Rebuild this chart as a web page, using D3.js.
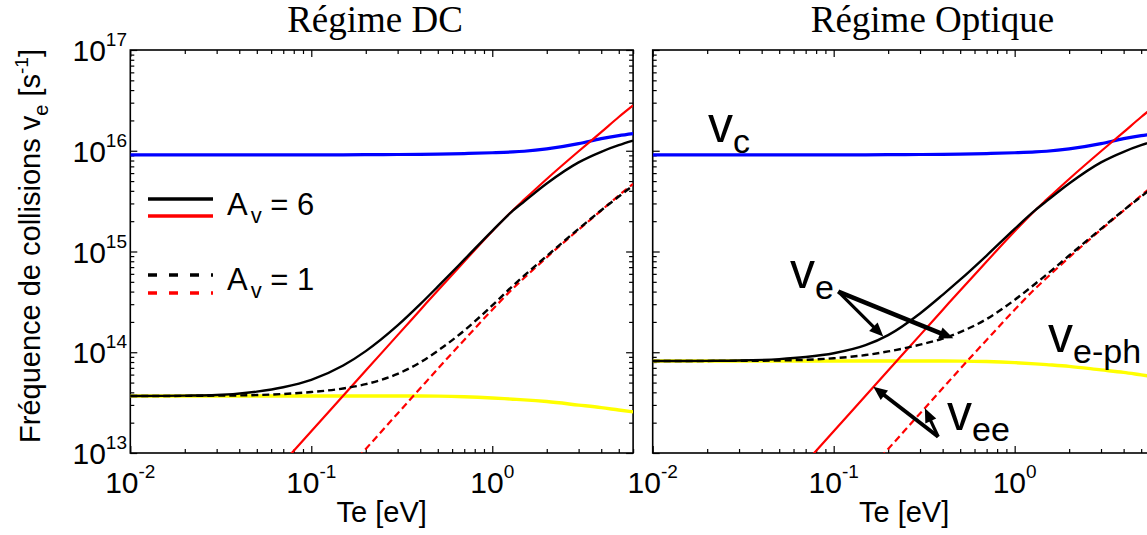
<!DOCTYPE html>
<html><head><meta charset="utf-8">
<script src="https://cdn.jsdelivr.net/npm/d3@7"></script>
<style>body{margin:0;background:#fff;overflow:hidden} svg{display:block}</style>
</head><body><svg id="c" width="1147" height="535"></svg>
<script>
// ---- data ----
const temperatures = [0.01,0.015,0.02,0.03,0.05,0.07,0.1,0.15,0.2,0.3,0.4,0.5,0.7,1,1.3,1.5,2,3,4,5,6];
const vcValues = [9.08e15,9.08e15,9.08e15,9.08e15,9.08e15,9.08e15,9.10e15,9.12e15,9.14e15,9.18e15,9.22e15,9.27e15,9.38e15,9.55e15,9.73e15,9.89e15,1.042e16,1.175e16,1.318e16,1.413e16,1.479e16];
const veeA6 = [null,null,null,null,null,8.05e12,1.644e13,3.70e13,6.58e13,1.479e14,2.63e14,4.11e14,7.94e14,1.585e15,2.57e15,3.27e15,5.25e15,9.89e15,1.531e16,2.163e16,2.818e16];
const veeA1 = [null,null,null,null,null,null,null,6.17e12,1.096e13,2.47e13,4.39e13,6.85e13,1.325e14,2.64e14,4.29e14,5.45e14,8.75e14,1.648e15,2.55e15,3.6e15,4.70e15];
const vephDC = [3.68e13,3.68e13,3.68e13,3.68e13,3.68e13,3.68e13,3.68e13,3.68e13,3.68e13,3.68e13,3.68e13,3.67e13,3.62e13,3.52e13,3.42e13,3.37e13,3.24e13,2.99e13,2.82e13,2.67e13,2.56e13];
const veDC_A6 = [3.68e13,3.69e13,3.71e13,3.76e13,4.07e13,4.49e13,5.32e13,7.38e13,1.026e14,1.845e14,3.0e14,4.48e14,8.30e14,1.603e15,2.54e15,3.13e15,4.73e15,7.67e15,9.77e15,1.135e16,1.259e16];
const veDC_A1 = [3.68e13,3.68e13,3.69e13,3.71e13,3.76e13,3.85e13,4.03e13,4.37e13,4.82e13,6.10e13,7.94e13,1.035e14,1.641e14,2.917e14,4.57e14,5.75e14,9.02e14,1.679e15,2.57e15,3.51e15,4.52e15];
const vephOpt = [8.18e13,8.18e13,8.18e13,8.18e13,8.18e13,8.18e13,8.18e13,8.18e13,8.18e13,8.18e13,8.18e13,8.17e13,8.09e13,7.89e13,7.67e13,7.53e13,7.24e13,6.68e13,6.31e13,5.96e13,5.69e13];
const veOpt_A6 = [8.18e13,8.20e13,8.22e13,8.28e13,8.55e13,8.97e13,9.77e13,1.175e14,1.479e14,2.427e14,3.715e14,5.25e14,9.12e14,1.679e15,2.57e15,3.16e15,4.73e15,7.67e15,9.77e15,1.135e16,1.259e16];
const veOpt_A1 = [8.18e13,8.18e13,8.20e13,8.22e13,8.28e13,8.41e13,8.71e13,9.38e13,1.019e14,1.189e14,1.365e14,1.585e14,2.138e14,3.31e14,4.79e14,5.89e14,9.12e14,1.679e15,2.57e15,3.51e15,4.52e15];

const xMajorTicks = [0.01, 0.1, 1];
const xTickExponents = ["-2", "-1", "0"];
const yMajorTicks = [1e13, 1e14, 1e15, 1e16, 1e17];
const yTickExponents = ["13", "14", "15", "16", "17"];
const panelTitles = ["Régime DC", "Régime Optique"];
const xDomain = [0.01, 6];
const yDomain = [1e13, 1e17];

// annotations in data coordinates (right panel)
const annotationLabels = [
  {main: "v", sub: "c", T: 0.0202, v: 1.23e16},
  {main: "v", sub: "e", T: 0.0574, v: 4.35e14},
  {main: "v", sub: "e-ph", T: 1.528, v: 1.01e14},
  {main: "v", sub: "ee", T: 0.4227, v: 1.69e13}
];
const annotationArrows = [
  {from: [0.106, 3.99e14], to: [0.188, 1.43e14], w: 3.2},
  {from: [0.106, 3.99e14], to: [0.458, 1.375e14], w: 4.6},
  {from: [0.378, 1.45e13], to: [0.1655, 4.55e13], w: 4.0},
  {from: [0.378, 1.45e13], to: [0.319, 2.78e13], w: 3.2}
];

// ---- layout ----
const svg = d3.select("#c");
const plotTop = 50, plotBottom = 453, plotW = 502.8;
const panels = [
  {left: 130.3, titleX: 375, veph: vephDC, a6: veDC_A6, a1: veDC_A1, yLabels: true, legend: true},
  {left: 652.7, titleX: 932.5, veph: vephOpt, a6: veOpt_A6, a1: veOpt_A1, yLabels: false, annot: true}
];
const sans = "Liberation Sans, Arial, sans-serif";

const defsEl = svg.append("defs");

panels.forEach((p, i) => {
  const x = d3.scaleLog().domain(xDomain).range([p.left, p.left + plotW]);
  const y = d3.scaleLog().domain(yDomain).range([plotBottom, plotTop]);
  const g = svg.append("g");

  defsEl.append("clipPath").attr("id", "clip" + i)
    .append("rect").attr("x", p.left).attr("y", plotTop)
    .attr("width", plotW).attr("height", plotBottom - plotTop);

  const xMinor = [];
  xMajorTicks.forEach(d => { for (let k = 2; k <= 9; k++) if (d * k <= xDomain[1]) xMinor.push(d * k); });
  const yMinor = [];
  yMajorTicks.slice(0, -1).forEach(d => { for (let k = 2; k <= 9; k++) yMinor.push(d * k); });

  const axes = [
    [() => d3.axisBottom(x), plotBottom, 0, "x"], [() => d3.axisTop(x), plotTop, 0, "x"],
    [() => d3.axisLeft(y), 0, p.left, "y"], [() => d3.axisRight(y), 0, p.left + plotW, "y"]
  ];
  axes.forEach(([mk, ty, tx, kind]) => {
    [[kind === "x" ? xMajorTicks : yMajorTicks, 7], [kind === "x" ? xMinor : yMinor, 4]].forEach(([vals, len]) => {
      const a = mk().tickValues(vals).tickSizeInner(-len).tickSizeOuter(0).tickFormat("");
      const ag = g.append("g").attr("transform", `translate(${tx},${ty})`).call(a);
      ag.select(".domain").remove();
      ag.selectAll("line").attr("stroke", "#000").attr("stroke-width", 1.2);
    });
  });

  g.append("rect").attr("x", p.left).attr("y", plotTop).attr("width", plotW).attr("height", plotBottom - plotTop)
    .attr("fill", "none").attr("stroke", "#000").attr("stroke-width", 1.6);

  xMajorTicks.forEach((d, k) => {
    const t = g.append("text").attr("x", x(d)).attr("y", 493).attr("text-anchor", "middle")
      .attr("font-family", sans).attr("font-size", 30).attr("fill", "#000");
    t.append("tspan").text("10");
    t.append("tspan").attr("font-size", 19).attr("dy", -15).text(xTickExponents[k]);
  });
  if (p.yLabels) {
    yMajorTicks.forEach((d, k) => {
      const t = g.append("text").attr("x", 127).attr("y", y(d) + 11).attr("text-anchor", "end")
        .attr("font-family", sans).attr("font-size", 30).attr("fill", "#000");
      t.append("tspan").text("10");
      t.append("tspan").attr("font-size", 19).attr("dy", -15).text(yTickExponents[k]);
    });
  }
  g.append("text").attr("x", p.left + plotW / 2).attr("y", 522).attr("text-anchor", "middle")
    .attr("font-family", sans).attr("font-size", 29).text("Te [eV]");
  g.append("text").attr("x", p.titleX).attr("y", 32).attr("text-anchor", "middle")
    .attr("font-family", "Liberation Serif, Times New Roman, serif").attr("font-size", 37).text(panelTitles[i]);

  const line = d3.line().defined(d => d[1] != null)
    .x(d => x(d[0])).y(d => y(d[1])).curve(d3.curveMonotoneX);
  const cg = g.append("g").attr("clip-path", `url(#clip${i})`);
  const series = [
    [vcValues, "#0000ff", 3.2, null],
    [p.veph, "#ffff00", 3.4, null],
    [veeA6, "#ff0000", 2.2, null],
    [veeA1, "#ff0000", 2.2, "7,4"],
    [p.a6, "#000000", 2.4, null],
    [p.a1, "#000000", 2.4, "7,4"]
  ];
  series.forEach(([vals, col, w, dash]) => {
    cg.append("path").datum(temperatures.map((t, k) => [t, vals[k]]))
      .attr("d", line).attr("fill", "none").attr("stroke", col).attr("stroke-width", w)
      .attr("stroke-dasharray", dash);
  });

  if (p.legend) {
    const lg = g.append("g");
    const items = [
      {ys: [199, 216], dash: null, label: "6", ty: 215},
      {ys: [275, 293], dash: "9,12", label: "1", ty: 290}
    ];
    items.forEach(it => {
      [["#000", it.ys[0]], ["#ff0000", it.ys[1]]].forEach(([c, yy]) => {
        lg.append("line").attr("x1", 148).attr("x2", 213).attr("y1", yy).attr("y2", yy)
          .attr("stroke", c).attr("stroke-width", 3.6).attr("stroke-dasharray", it.dash);
      });
      const t = lg.append("text").attr("x", 227).attr("y", it.ty)
        .attr("font-family", sans).attr("font-size", 31);
      t.append("tspan").text("A");
      t.append("tspan").attr("font-size", 22).attr("dy", 8).attr("dx", 3).text("v");
      t.append("tspan").attr("dy", -8).text(" = " + it.label);
    });
  }

  if (p.annot) {
    annotationLabels.forEach(a => {
      const t = g.append("text").attr("x", x(a.T)).attr("y", y(a.v))
        .attr("font-family", sans).attr("font-size", 50);
      t.append("tspan").text(a.main);
      t.append("tspan").attr("font-size", 34).attr("dy", 11).text(a.sub);
    });
    annotationArrows.forEach(a => {
      const x0 = x(a.from[0]), y0 = y(a.from[1]), x1 = x(a.to[0]), y1 = y(a.to[1]);
      const dx = x1 - x0, dy = y1 - y0, L = Math.hypot(dx, dy), ux = dx / L, uy = dy / L;
      const hl = 14, hw = 6;
      const bx = x1 - ux * hl, by = y1 - uy * hl;
      g.append("line").attr("x1", x0).attr("y1", y0).attr("x2", bx + ux * 2).attr("y2", by + uy * 2)
        .attr("stroke", "#000").attr("stroke-width", a.w);
      g.append("path").attr("d", `M${x1},${y1}L${bx - uy * hw},${by + ux * hw}L${bx + uy * hw},${by - ux * hw}Z`)
        .attr("fill", "#000");
    });
  }
});

const yt = svg.append("text").attr("transform", "translate(40,246) rotate(-90)")
  .attr("text-anchor", "middle").attr("font-family", sans).attr("font-size", 29);
yt.append("tspan").text("Fréquence de collisions v");
yt.append("tspan").attr("font-size", 20).attr("dy", 8).text("e");
yt.append("tspan").attr("dy", -8).text(" [s");
yt.append("tspan").attr("font-size", 19).attr("dy", -12).text("-1");
yt.append("tspan").attr("dy", 12).text("]");
</script>
</body></html>
